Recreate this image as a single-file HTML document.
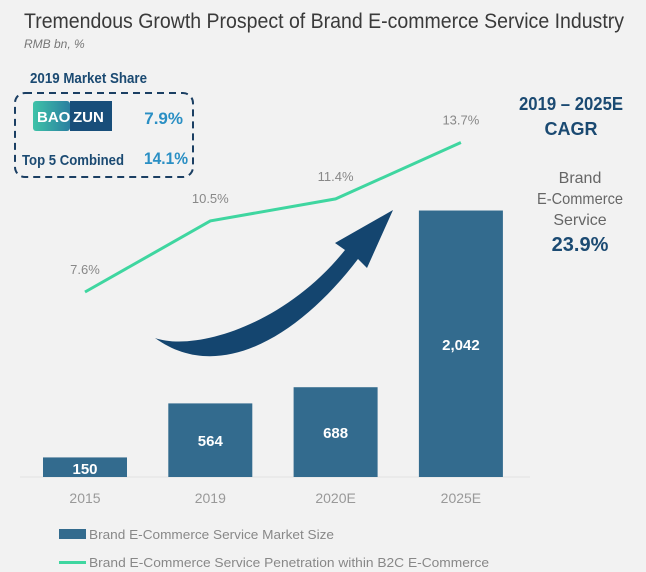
<!DOCTYPE html>
<html><head><meta charset="utf-8"><style>
body{margin:0;background:#f2f2f2;}
svg{display:block;font-family:"Liberation Sans",sans-serif;}
</style></head><body>
<svg width="646" height="572" viewBox="0 0 646 572">
<rect width="646" height="572" fill="#f2f2f2"/>
<text x="24" y="28" font-size="21" fill="#3a3a3a" textLength="600" lengthAdjust="spacingAndGlyphs">Tremendous Growth Prospect of Brand E-commerce Service Industry</text>
<text x="24" y="48" font-size="12" font-style="italic" fill="#777">RMB bn, %</text>
<text x="30" y="83" font-size="15" font-weight="bold" fill="#1b4a72" textLength="117" lengthAdjust="spacingAndGlyphs">2019 Market Share</text>
<rect x="15" y="93" width="178" height="84" rx="10" fill="none" stroke="#1b3f63" stroke-width="2" stroke-dasharray="7,5"/>
<defs><linearGradient id="bz" x1="0" x2="1"><stop offset="0" stop-color="#3fc3a8"/><stop offset="1" stop-color="#2a7fa0"/></linearGradient></defs>
<rect x="33" y="101" width="37" height="30" rx="3" fill="url(#bz)"/>
<rect x="70" y="101" width="42" height="30" fill="#184e7a"/>
<text x="37" y="122" font-size="15" font-weight="bold" fill="#fff">BAO</text>
<text x="73" y="122" font-size="15" font-weight="bold" fill="#fff">ZUN</text>
<text x="183" y="124" font-size="17" font-weight="bold" fill="#2a8fc4" text-anchor="end">7.9%</text>
<text x="22" y="165" font-size="15" font-weight="bold" fill="#1b4a72" textLength="102" lengthAdjust="spacingAndGlyphs">Top 5 Combined</text>
<text x="188" y="164" font-size="17" font-weight="bold" fill="#2a8fc4" text-anchor="end" textLength="44" lengthAdjust="spacingAndGlyphs">14.1%</text>
<text x="571" y="110" font-size="18" font-weight="bold" fill="#1b4a72" text-anchor="middle" textLength="104" lengthAdjust="spacingAndGlyphs">2019 – 2025E</text>
<text x="571" y="135" font-size="18" font-weight="bold" fill="#1b4a72" text-anchor="middle">CAGR</text>
<text x="580" y="183" font-size="16" fill="#666" text-anchor="middle">Brand</text>
<text x="580" y="204" font-size="16" fill="#666" text-anchor="middle" textLength="86" lengthAdjust="spacingAndGlyphs">E-Commerce</text>
<text x="580" y="225" font-size="16" fill="#666" text-anchor="middle">Service</text>
<text x="580" y="251" font-size="20" font-weight="bold" fill="#1b4a72" text-anchor="middle">23.9%</text>
<line x1="20" y1="477" x2="530" y2="477" stroke="#e2e2e2"/>
<path d="M155,338 C195,352 285,325 345,250 L335,243 L393,210 L367,268 L358,259 C300,335 220,385 155,338 Z" fill="#14456f"/>
<g id="bars"></g><g id="line"></g>
<rect x="59" y="529" width="27" height="10" fill="#336b8e"/>
<text x="89" y="539" font-size="13" fill="#888" textLength="245" lengthAdjust="spacingAndGlyphs">Brand E-Commerce Service Market Size</text>
<rect x="59" y="561" width="27" height="3" fill="#3fd6a0"/>
<text x="89" y="567" font-size="13" fill="#888" textLength="400" lengthAdjust="spacingAndGlyphs">Brand E-Commerce Service Penetration within B2C E-Commerce</text>
</svg>
<script>
const categories=["2015","2019","2020E","2025E"];
const marketSize=[150,564,688,2042];
const sizeLabels=["150","564","688","2,042"];
const penetration=[7.6,10.5,11.4,13.7];
const penLabels=["7.6%","10.5%","11.4%","13.7%"];
const NS="http://www.w3.org/2000/svg";
const xc=i=>85+i*125.3;
const yBar=v=>477-v*0.1305;
const yLine=v=>292-(v-7.6)*24.5;
const bars=document.getElementById('bars'),line=document.getElementById('line');
function mk(tag,at,parent){const e=document.createElementNS(NS,tag);for(const k in at)e.setAttribute(k,at[k]);parent.appendChild(e);return e;}
categories.forEach((c,i)=>{
 const r=mk('rect',{x:xc(i)-42,y:yBar(marketSize[i]),width:84,height:477-yBar(marketSize[i]),fill:'#336b8e'},bars);
 
 
 const h=477-yBar(marketSize[i]);
 const t=mk('text',{x:xc(i),y:h<30?474:yBar(marketSize[i])+h/2+6,'font-size':15,'font-weight':'bold',fill:'#fff','text-anchor':'middle'},bars);
 t.textContent=sizeLabels[i];
 
 
 const xl=mk('text',{x:xc(i),y:503,'font-size':14,fill:'#999','text-anchor':'middle'},bars);
 xl.textContent=c;
 
 
});
const pl=mk('polyline',{points:penetration.map((v,i)=>xc(i)+','+yLine(v)).join(' '),fill:'none',stroke:'#3fd6a0','stroke-width':3},line);


penetration.forEach((v,i)=>{
 const t=mk('text',{x:xc(i),y:yLine(v)-18,'font-size':13,fill:'#888','text-anchor':'middle'},line);
 t.textContent=penLabels[i];
 
 
});
</script>
</body></html>
